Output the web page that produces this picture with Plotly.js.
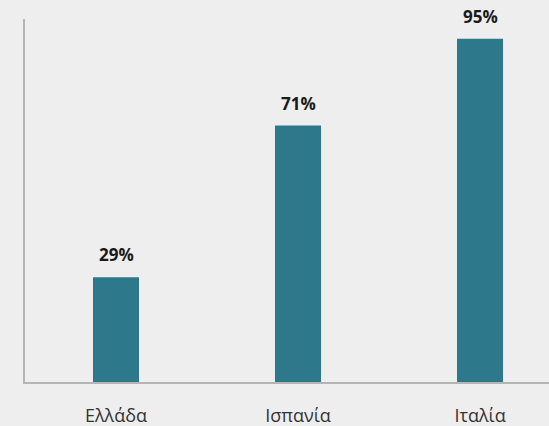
<!DOCTYPE html>
<html><head><meta charset="utf-8">
<script src="https://cdn.plot.ly/plotly-3.0.1.min.js"></script>
<style>html,body{margin:0;padding:0;background:#eeeeee;}#chart{width:549px;height:426px;}</style>
</head><body><div id="chart"></div>
<script>
var categories = ["Ελλάδα", "Ισπανία", "Ιταλία"];
var values = [29, 71, 95];
var labels = ["29%", "71%", "95%"];

var xs = categories.map(function(_, i){ return i; });
var trace = {
  type: "bar", x: xs, y: values, width: 0.253,
  marker: {color: "#2d788b"}, hoverinfo: "skip"
};
var annotations = values.map(function(v, i){
  return {x: i, y: v, text: "<b>" + labels[i] + "</b>", showarrow: false,
    yanchor: "bottom", yshift: 9, font: {family: "Open Sans", size: 17, color: "#1a1a1a"}};
});
var layout = {
  width: 549, height: 426,
  margin: {l: 25, r: 0, t: 19, b: 44},
  paper_bgcolor: "#eeeeee", plot_bgcolor: "#eeeeee",
  showlegend: false,
  xaxis: {range: [-0.5, 2.379], tickvals: xs, ticktext: categories,
    showgrid: false, zeroline: false, showline: true, linecolor: "#b5b5b5", linewidth: 2,
    ticks: "", ticklabelstandoff: 16, tickfont: {family: "Open Sans", size: 18, color: "#333333"}, fixedrange: true},
  yaxis: {range: [0, 100.5], showgrid: false, zeroline: false, showticklabels: false,
    showline: true, linecolor: "#b5b5b5", linewidth: 2, ticks: "", fixedrange: true},
  annotations: annotations
};
Plotly.newPlot("chart", [trace], layout, {displayModeBar: false, staticPlot: true});
</script></body></html>
